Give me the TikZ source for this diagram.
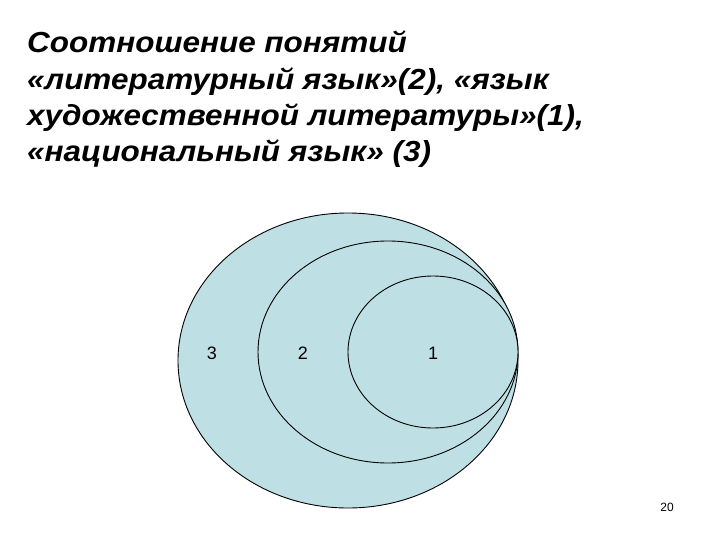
\documentclass[tikz,border=0pt]{standalone}
\usepackage{fontspec}
\setmainfont{Liberation Sans}
\newfontfamily\titlefont[FakeStretch=1.085]{Liberation Sans}
\definecolor{setfill}{RGB}{190,224,228}
\begin{document}
\begin{tikzpicture}[x=1pt,y=-1pt,
  titleline/.style={anchor=base west,inner sep=0pt,font=\titlefont\fontsize{29}{32}\selectfont\bfseries\itshape},
  setline/.style={draw=black,line width=0.9pt,fill=setfill},
  setlabel/.style={inner sep=0pt,font=\fontsize{18}{20}\selectfont},
  pagenum/.style={inner sep=0pt,font=\fontsize{12}{14}\selectfont}]
\useasboundingbox (0,0) rectangle (720,540);
\node[titleline] (t1) at (27,53) {Соотношение понятий};
\node[titleline] (t2) at (27,90) {«литературный язык»(2), «язык};
\node[titleline] (t3) at (27,126) {художественной литературы»(1),};
\node[titleline] (t4) at (27,162) {«национальный язык» (3)};
\draw[setline] (348,360.5) ellipse [x radius=170, y radius=147.5];
\draw[setline] (388,352) ellipse [x radius=130, y radius=111];
\draw[setline] (433,352) ellipse [x radius=85, y radius=76];
\node[setlabel] (l3) at (212,353) {3};
\node[setlabel] (l2) at (303,353) {2};
\node[setlabel] (l1) at (433,353) {1};
\node[pagenum] (pg) at (667,507) {20};
\end{tikzpicture}
\end{document}
